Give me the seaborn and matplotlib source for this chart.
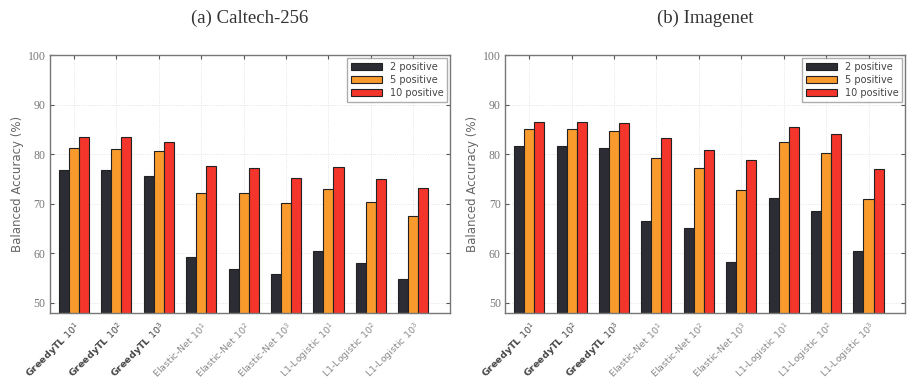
import numpy as np
import pandas as pd
import matplotlib
matplotlib.use("Agg")
import matplotlib.pyplot as plt
import seaborn as sns

methods = ["GreedyTL", "GreedyTL", "GreedyTL",
           "Elastic-Net", "Elastic-Net", "Elastic-Net",
           "L1-Logistic", "L1-Logistic", "L1-Logistic"]
exponents = [1, 2, 3, 1, 2, 3, 1, 2, 3]
series = ["2 positive", "5 positive", "10 positive"]

caltech_2 = [76.8, 76.8, 75.5, 59.2, 56.9, 55.8, 60.5, 58.1, 54.7]
caltech_5 = [81.3, 81.1, 80.6, 72.2, 72.2, 70.1, 73.0, 70.3, 67.6]
caltech_10 = [83.5, 83.5, 82.5, 77.7, 77.3, 75.2, 77.4, 75.0, 73.2]

imagenet_2 = [81.7, 81.7, 81.3, 66.6, 65.1, 58.3, 71.1, 68.6, 60.5]
imagenet_5 = [85.0, 85.0, 84.7, 79.3, 77.2, 72.8, 82.5, 80.3, 70.9]
imagenet_10 = [86.5, 86.5, 86.3, 83.3, 80.8, 78.9, 85.5, 84.0, 77.1]

colors = ["#2c2c34", "#f89b2c", "#f4352b"]

sns.set_style("white")


def make_df(v2, v5, v10):
    cats = [f"{m} {e}" for m, e in zip(methods, exponents)]
    rows = []
    for s, vals in zip(series, [v2, v5, v10]):
        for c, v in zip(cats, vals):
            rows.append({"cat": c, "series": s, "acc": v})
    return pd.DataFrame(rows), cats


fig, axes = plt.subplots(1, 2, figsize=(9.22, 3.8), dpi=100)
fig.subplots_adjust(left=0.054, right=0.982, top=0.855, bottom=0.176, wspace=0.137)

panels = [("(a) Caltech-256", caltech_2, caltech_5, caltech_10),
          ("(b) Imagenet", imagenet_2, imagenet_5, imagenet_10)]

for ax, (title, v2, v5, v10) in zip(axes, panels):
    df, cats = make_df(v2, v5, v10)
    sns.barplot(data=df, x="cat", y="acc", hue="series", palette=colors,
                saturation=1, width=0.71, edgecolor="#222222", linewidth=0.8,
                ax=ax, errorbar=None)
    ax.set_ylim(47.9, 100)
    ax.set_xlim(-0.57, 8.87)
    ax.set_yticks([50, 60, 70, 80, 90, 100])
    ax.set_yticklabels(["50", "60", "70", "80", "90", "100"],
                       family="Liberation Serif", fontsize=8.5, color="#777777")
    labels = [f"{m} $10^{e}$" for m, e in zip(methods, exponents)]
    ax.set_xticks(range(len(cats)))
    ax.set_xticklabels(labels, rotation=45, ha="right", rotation_mode="anchor",
                       fontsize=6.8)
    for t, m in zip(ax.get_xticklabels(), methods):
        if m == "GreedyTL":
            t.set_fontweight("bold")
            t.set_color("#444444")
        else:
            t.set_color("#8a8a8a")
    ax.set_xlabel("")
    ax.set_ylabel("Balanced Accuracy (%)", fontsize=8.5, color="#666666",
                  labelpad=3)
    ax.grid(True, axis="both", linestyle=":", linewidth=0.6, color="#dddddd")
    ax.set_axisbelow(True)
    ax.tick_params(direction="in", length=3, top=True, right=True,
                   bottom=True, left=True, color="#555555", pad=3)
    ax.tick_params(axis="x", pad=5)
    for sp in ax.spines.values():
        sp.set_color("#777777")
        sp.set_linewidth(1.0)
    ax.set_title(title, family="Liberation Serif", fontsize=13.5, pad=23,
                 color="#333333")
    leg = ax.legend(loc="upper right", fontsize=7, frameon=True,
                    fancybox=False, edgecolor="#999999", handlelength=3.2,
                    handleheight=0.8, borderpad=0.4, labelspacing=0.3,
                    borderaxespad=0.3)
    for txt in leg.get_texts():
        txt.set_color("#444444")

fig.savefig("out.png", dpi=100)
